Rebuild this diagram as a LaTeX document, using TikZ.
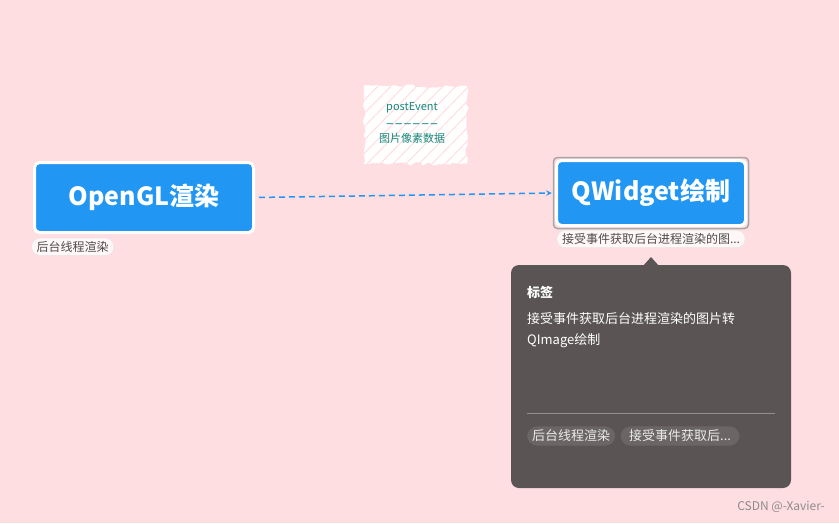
\documentclass[tikz,border=0pt]{standalone}
\usepackage{fontspec}
\setmainfont{Noto Sans CJK SC}
\usetikzlibrary{arrows,positioning,fit,decorations.pathmorphing}
\definecolor{bgpink}{HTML}{FFDEE2}
\definecolor{nodeblue}{HTML}{2196F3}
\definecolor{tipgray}{HTML}{5A5454}
\definecolor{pillgray}{HTML}{6B6565}
\definecolor{noteteal}{HTML}{17877A}

\begin{document}
\begin{tikzpicture}[
		x=1pt, y=-1pt,
		topic/.style={draw=white, line width=3pt, fill=nodeblue, rounded corners=5pt, text=white, font=\bfseries\fontsize{25}{30}\selectfont, inner sep=0pt},
		tag/.style={fill=white!75!bgpink, draw=black!10, thin, rounded corners=8pt, text=black!70, font=\fontsize{12}{14}\selectfont, inner xsep=5pt, inner ysep=3pt},
		pill/.style={fill=pillgray, rounded corners=10pt, text=white!92!black, font=\fontsize{13}{15}\selectfont, inner xsep=5pt, inner ysep=3.5pt, anchor=west},
		tiptext/.style={text=white, anchor=west, inner sep=0pt, font=\fontsize{13}{21}\selectfont, align=left},
		link/.style={->, >=stealth, dashed, dash pattern=on 6pt off 4pt, line width=1.5pt, nodeblue, shorten <=4pt, shorten >=1pt}
		]
		% background
		\fill[bgpink] (0,0) rectangle (839,523);
		\useasboundingbox (0,0) rectangle (839,523);
		
		% topics
		\node[topic, minimum width=219pt, minimum height=70pt] (ogl) at (144,197.5) {OpenGL渲染};
		\node[topic, minimum width=189pt, minimum height=65pt] (qw) at (651,193) {QWidget绘制};
		\node[fit=(qw), inner sep=1.5pt, draw=black!35, line width=1.5pt, rounded corners=4pt] (qwframe) {};
		
		\node[tag, below right=4pt and -1.5pt of ogl.south west] (ogltag) {后台线程渲染};
		\node[tag, below=1pt of qwframe] (qwtag) {接受事件获取后台进程渲染的图...};
		
		% connector
		\draw[link] (ogl.east) -- (qwframe.west);
		
		% sketchy note
		\fill[white, decorate, decoration={random steps, segment length=5pt, amplitude=1.8pt}]
		(364,86) rectangle (467,164);
		\begin{scope}
			\clip (362,84) rectangle (469,166);
			\foreach \i in {0,13,...,196}
			\draw[bgpink, line width=1pt] (300+\i,166) -- (380+\i,84);
		\end{scope}
		\node[text=noteteal, align=center, font=\fontsize{11}{16}\selectfont] (note) at (412,123)
		{postEvent\\{\bfseries\fontsize{8}{16}\selectfont —\hspace{1.5pt}—\hspace{1.5pt}—\hspace{1.5pt}—\hspace{1.5pt}—\hspace{1.5pt}—}\\图片像素数据};
		
		% tooltip
		\fill[tipgray, rounded corners=8pt] (511,265) rectangle (791,488);
		\fill[tipgray] (643,266) -- (651,257) -- (659,266) -- cycle;
		\node[tiptext, font=\bfseries\fontsize{13}{15}\selectfont] (tiptitle) at (527,292) {标签};
		\node[tiptext] (tipbody) at (527,330) {接受事件获取后台进程渲染的图片转\\QImage绘制};
		\coordinate (rulel) at (527,413);
		\coordinate (ruler) at (775,413);
		\draw[white!35!tipgray, thin] (rulel) -- (ruler);
		\node[pill] (pilla) at (527,436) {后台线程渲染};
		\node[pill, right=5pt of pilla, inner xsep=6pt, minimum width=119pt, align=left] (pillb) {接受事件获取后...};
		
		% watermark
		\node[anchor=east, text=black!45, font=\fontsize{12}{14}\selectfont, inner sep=0pt] (mark) at (825,507) {CSDN @-Xavier-};
\end{tikzpicture}
\end{document}
